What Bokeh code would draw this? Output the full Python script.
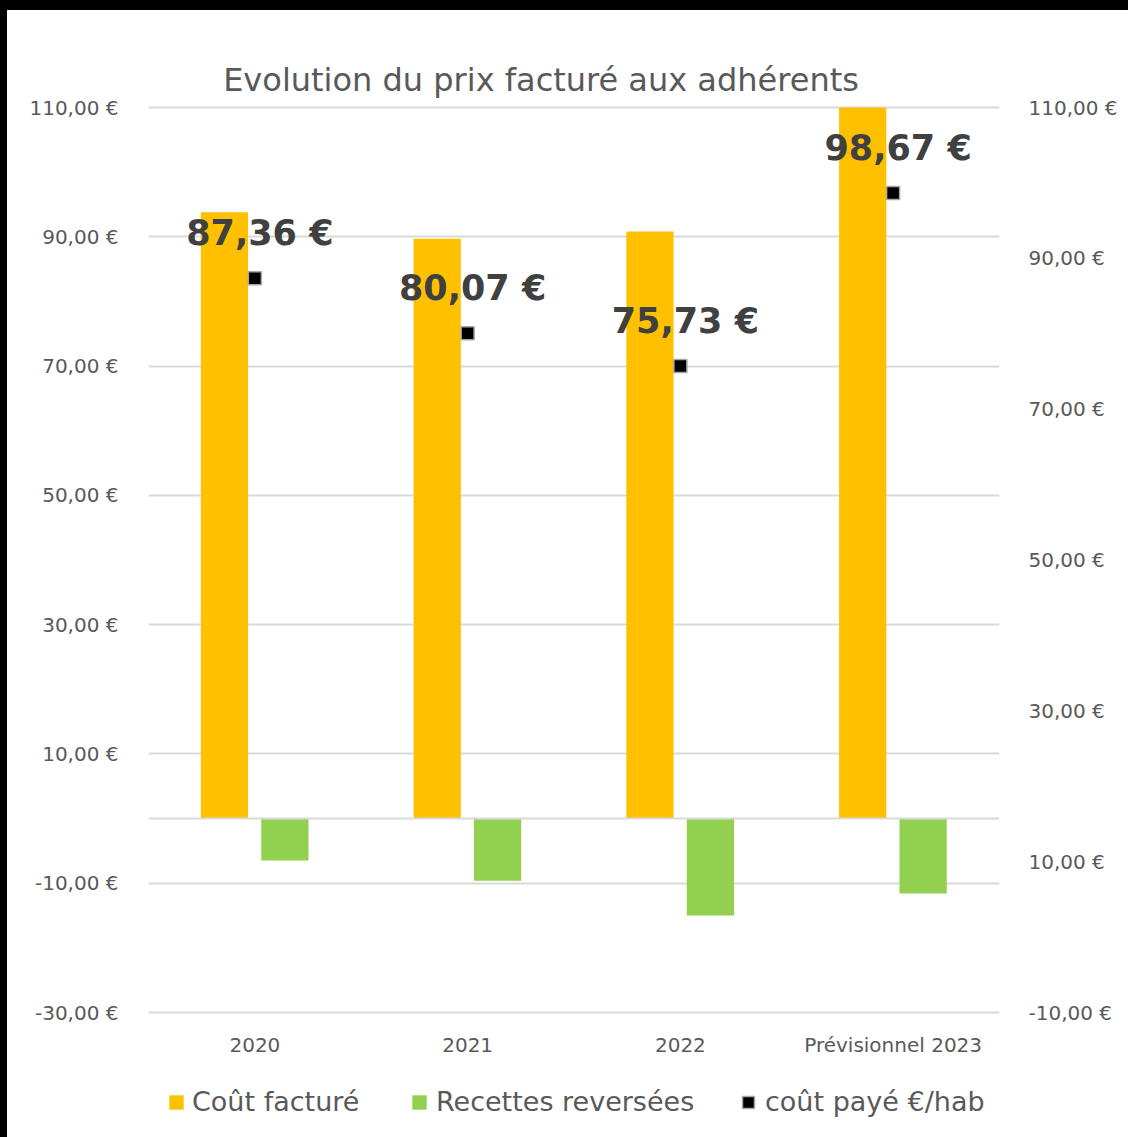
from bokeh.plotting import figure
from bokeh.models import (Range1d, FactorRange, LinearAxis, FixedTicker, Span, Label,
                          Legend, LegendItem, ColumnDataSource)
from bokeh.transform import dodge
from bokeh.embed import file_html
from bokeh.resources import INLINE

# ---- data ----
categories = ["2020", "2021", "2022", "Prévisionnel 2023"]
cout_facture = [93.8, 89.7, 90.8, 110.0]
recettes_reversees = [-6.5, -9.6, -15.0, -11.6]
cout_paye_hab = [87.36, 80.07, 75.73, 98.67]
left_ticks = [-30, -10, 10, 30, 50, 70, 90, 110]
right_ticks = [-10, 10, 30, 50, 70, 90, 110]
title_text = "Evolution du prix facturé aux adhérents"

def euro(v):
    return ("%.2f" % v).replace(".", ",") + " €"

src = ColumnDataSource(dict(
    cats=categories,
    cf=cout_facture,
    rr=recettes_reversees,
    hab=cout_paye_hab,
))

FONT = "DejaVu Sans"
GREY = "#595959"

# plot area: 851 x 905 px for 110..-30 (left) and 110..-10 (right); the frame is
# extended vertically so that title, category labels and legend live inside it
L_PX = 905 / 140.0
R_PX = 905 / 120.0
TOP_PAD, BOT_PAD = 97, 135

p = figure(width=1121, height=1127, output_backend="svg", toolbar_location=None,
           x_range=FactorRange(factors=categories),
           y_range=Range1d(-30 - BOT_PAD / L_PX, 110 + TOP_PAD / L_PX),
           min_border_left=141, min_border_right=136, min_border_top=0, min_border_bottom=0,
           outline_line_color=None, background_fill_color="white", border_fill_color="white")
p.styles = {"border-top": "10px solid black", "border-left": "7px solid black",
            "box-sizing": "content-box"}
p.extra_y_ranges = {"right": Range1d(-10 - BOT_PAD / R_PX, 110 + TOP_PAD / R_PX)}

p.xgrid.visible = False
p.ygrid.ticker = FixedTicker(ticks=left_ticks)
p.ygrid.grid_line_color = "#D9D9D9"
p.ygrid.grid_line_width = 2

p.add_layout(Span(location=0, dimension="width", line_color="#D9D9D9", line_width=2))

r1 = p.vbar(x=dodge("cats", -0.143, range=p.x_range), top="cf", bottom=0, width=0.222,
            source=src, fill_color="#FFC000", line_color=None)
r2 = p.vbar(x=dodge("cats", 0.141, range=p.x_range), top=0, bottom="rr", width=0.222,
            source=src, fill_color="#92D050", line_color=None)
r3 = p.scatter(x="cats", y="hab", source=src, y_range_name="right", marker="square", size=13,
               fill_color="black", line_color="#A6A6A6", line_width=1.5)

# synthetic (numeric) centre of each category on the factor range
cat_pos = {c: i + 0.5 for i, c in enumerate(categories)}

# data labels above the markers
for c, v in zip(categories, cout_paye_hab):
    p.add_layout(Label(x=cat_pos[c], y=v, y_range_name="right", text=euro(v),
                       text_align="center", text_baseline="middle", x_offset=5, y_offset=45,
                       text_font=FONT, text_font_style="bold", text_font_size="35px",
                       text_color="#404040"))

def style_axis(ax, standoff):
    ax.axis_line_color = None
    ax.major_tick_line_color = None
    ax.minor_tick_line_color = None
    ax.major_tick_out = 0
    ax.major_tick_in = 0
    ax.major_label_text_font = FONT
    ax.major_label_text_font_size = "20px"
    ax.major_label_text_color = GREY
    ax.major_label_standoff = standoff

p.yaxis.ticker = FixedTicker(ticks=left_ticks)
p.yaxis.major_label_overrides = {t: euro(t) for t in left_ticks}
style_axis(p.yaxis[0], 30)

rax = LinearAxis(y_range_name="right", ticker=FixedTicker(ticks=right_ticks),
                 major_label_overrides={t: euro(t) for t in right_ticks})
style_axis(rax, 29)
p.add_layout(rax, "right")

p.xaxis.visible = False
# category labels (x axis drawn below the -30 line)
for c in categories:
    p.add_layout(Label(x=cat_pos[c], y=-30 - 32.5 / L_PX, text=c, text_align="center",
                       text_baseline="middle", text_font=FONT, text_font_size="20px",
                       text_color=GREY))

p.add_layout(Label(x=1.845, y=110 + 28 / L_PX, text=title_text,
                   text_align="center", text_baseline="middle", text_font=FONT,
                   text_font_size="32px", text_color=GREY))

def legend(label, rend, loc, gw, standoff):
    lg = Legend(items=[LegendItem(label=label, renderers=[rend])], location=loc,
                orientation="horizontal", glyph_width=gw, glyph_height=gw,
                label_standoff=standoff, padding=0, margin=0, spacing=0,
                border_line_color=None, background_fill_alpha=0,
                label_text_font=FONT, label_text_font_size="27px", label_text_color=GREY)
    p.add_layout(lg)

legend("Coût facturé", r1, (19, 30), 18, 7)
legend("Recettes reversées", r2, (262, 30), 18, 8)
legend("coût payé €/hab", r3, (585, 30), 30, 2)

open("out.html", "w").write(file_html(p, INLINE))
